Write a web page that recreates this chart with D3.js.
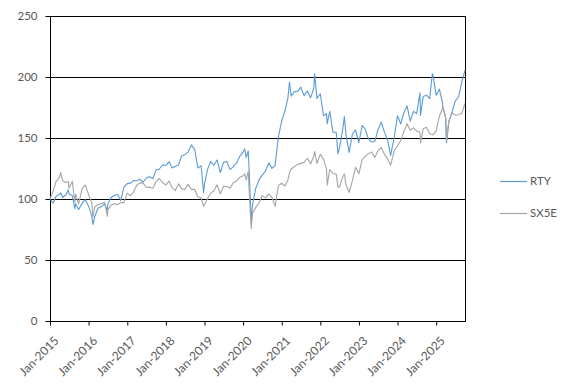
<!DOCTYPE html>
<html>
<head>
<meta charset="utf-8">
<script src="https://d3js.org/d3.v7.min.js"></script>
<title>RTY vs SX5E</title>
<style type="text/css">
  body { margin: 0; background: #ffffff; }
  text { font-family: Lato, "Liberation Sans", sans-serif; }
</style>
</head>
<body>
<div id="chart"></div>
<script>

// rebased index levels (start = 100)
var dates = [
  "2015-01-01","2015-01-31","2015-02-28","2015-03-31","2015-04-13","2015-04-30","2015-05-31","2015-06-23","2015-06-30",
  "2015-07-31","2015-08-24","2015-08-31","2015-09-29","2015-10-31","2015-11-30","2015-12-31",
  "2016-01-31","2016-02-11","2016-02-29","2016-03-31","2016-04-30","2016-05-31","2016-06-27","2016-06-30",
  "2016-07-31","2016-08-31","2016-09-30","2016-10-31","2016-11-30","2016-12-31",
  "2017-01-31","2017-02-28","2017-03-31","2017-04-30","2017-05-31","2017-06-30","2017-07-31","2017-08-31",
  "2017-09-30","2017-10-31","2017-11-30","2017-12-31",
  "2018-01-31","2018-02-28","2018-03-31","2018-04-30","2018-05-31","2018-06-30","2018-07-31","2018-08-31",
  "2018-09-30","2018-10-31","2018-11-30","2018-12-24","2018-12-31",
  "2019-01-31","2019-02-28","2019-03-31","2019-04-30","2019-05-31","2019-06-30","2019-07-31","2019-08-31",
  "2019-09-30","2019-10-31","2019-11-30","2019-12-31",
  "2020-01-17","2020-01-31","2020-02-19","2020-02-28","2020-03-18","2020-03-31","2020-04-30","2020-05-31",
  "2020-06-30","2020-07-31","2020-08-31","2020-09-30","2020-10-30","2020-11-30","2020-12-31",
  "2021-01-31","2021-02-28","2021-03-15","2021-03-31","2021-04-30","2021-05-31","2021-06-30","2021-07-31",
  "2021-08-31","2021-09-30","2021-10-31","2021-11-08","2021-11-30","2021-12-31",
  "2022-01-31","2022-02-28","2022-03-07","2022-03-31","2022-04-30","2022-05-31","2022-06-16","2022-06-30",
  "2022-07-31","2022-08-16","2022-08-31","2022-09-30","2022-10-31","2022-11-30","2022-12-31",
  "2023-01-31","2023-02-28","2023-03-31","2023-04-30","2023-05-31","2023-06-30","2023-07-31","2023-08-31",
  "2023-09-30","2023-10-27","2023-11-30","2023-12-31",
  "2024-01-31","2024-02-29","2024-03-31","2024-04-30","2024-05-31","2024-06-30","2024-07-31","2024-08-05",
  "2024-08-31","2024-09-30","2024-10-31","2024-11-25","2024-11-30","2024-12-31",
  "2025-01-31","2025-02-28","2025-03-03","2025-03-31","2025-04-08","2025-04-30","2025-05-31","2025-06-30",
  "2025-07-31","2025-08-31","2025-09-30"
];

var rty = [
  100,96.7,102.3,103.9,105.0,101.2,103.5,107.5,104.1,
  102.8,92.1,96.2,91.4,96.4,99.5,94.3,
  86.0,79.1,85.8,92.4,93.8,95.9,90.5,95.6,
  101.2,102.9,103.9,98.8,109.7,112.6,
  113.0,115.1,115.0,116.2,113.7,117.4,118.3,116.6,
  123.7,124.6,128.1,127.4,
  130.7,125.5,126.9,127.9,135.5,136.3,138.7,144.4,
  140.7,125.4,127.2,105.1,112.0,
  124.5,130.7,127.8,132.0,121.7,130.0,130.7,124.1,
  126.4,129.6,134.9,138.4,
  141.1,133.9,139.4,122.5,82.2,95.7,108.8,115.7,
  119.6,122.8,129.5,125.1,127.6,151.0,163.9,
  172.0,182.7,195.9,184.3,188.0,188.2,191.7,184.7,
  188.6,182.9,190.6,202.7,182.5,186.3,
  168.3,170.0,161.8,171.8,154.7,154.7,136.9,141.7,
  156.4,167.6,153.0,138.2,153.3,156.6,146.1,
  160.3,157.4,149.5,146.7,147.2,156.8,163.0,154.6,
  148.1,135.8,150.2,168.2,
  161.6,170.5,176.3,163.8,171.8,170.0,187.1,168.5,
  184.1,185.1,182.3,202.7,202.1,185.1,
  189.9,179.5,175.9,166.9,146.1,163.0,171.5,180.5,
  183.6,196.3,205.5
];

var sx5e = [
  100,106.5,114.4,117.5,121.7,114.9,113.5,114.4,108.8,
  114.5,97.6,103.9,96.0,108.6,111.4,103.9,
  96.8,85.2,93.6,95.5,96.2,97.4,85.8,91.1,
  95.1,96.1,95.4,97.1,97.0,104.6,
  102.7,105.5,111.3,113.2,113.0,109.4,109.7,108.8,
  114.3,116.8,113.5,111.4,
  114.7,109.3,106.9,112.4,108.3,107.9,112.0,107.9,
  108.0,101.6,100.9,93.8,95.4,
  100.4,104.8,106.5,111.7,104.3,110.4,110.2,108.9,
  113.4,114.6,117.7,119.0,
  120.8,115.7,122.9,105.8,75.8,88.6,93.1,96.9,
  102.8,100.9,104.0,101.5,94.0,111.0,112.9,
  110.6,115.6,121.7,124.6,126.4,128.4,129.2,130.0,
  133.4,128.7,135.1,138.9,129.1,136.6,
  132.7,124.7,111.4,124.1,120.9,120.4,109.7,109.8,
  117.9,120.5,111.8,105.5,115.0,126.0,120.6,
  132.3,134.7,137.2,138.6,134.1,139.8,142.1,136.6,
  132.7,127.6,139.3,143.7,
  147.7,155.1,161.6,156.4,158.4,155.6,154.9,145.9,
  157.6,158.9,153.4,152.6,152.7,155.6,
  168.1,173.7,176.1,166.8,146.9,164.1,170.6,168.6,
  169.1,170.1,178.5
];

var seriesNames = ["RTY", "SX5E"];
var seriesColors = ["#5b9bd5", "#a5a5a5"];
var yTicks = [0, 50, 100, 150, 200, 250];
var tickYears = [2015, 2016, 2017, 2018, 2019, 2020, 2021, 2022, 2023, 2024, 2025];

// size + margins
var margin = {top: 16, right: 107, bottom: 64, left: 50},
    width = 465 - margin.left,
    height = 321 - margin.top;

var svg = d3.select("#chart").append("svg")
  .attr("width", 572)
  .attr("height", 385)
  .append("g")
  .attr("transform", "translate(" + margin.left + "," + margin.top + ")");

var parse = d3.timeParse("%Y-%m-%d");
var data = dates.map(function(d, i) {
  return {date: parse(d), rty: rty[i], sx5e: sx5e[i]};
});

var x = d3.scaleTime()
  .domain(d3.extent(data, function(d) { return d.date; }))
  .range([0, width]);

var y = d3.scaleLinear()
  .domain([0, 250])
  .range([height, 0]);

// gridlines
svg.append("g").selectAll("line")
  .data(yTicks)
  .enter().append("line")
  .attr("x1", 0)
  .attr("x2", width)
  .attr("y1", function(d) { return Math.round(y(d)) + 0.5; })
  .attr("y2", function(d) { return Math.round(y(d)) + 0.5; })
  .style("stroke", "#000")
  .style("stroke-width", 1);

// plot border
svg.append("rect")
  .attr("x", 0.5)
  .attr("y", Math.round(y(250)) + 0.5)
  .attr("width", width)
  .attr("height", Math.round(y(0)) - Math.round(y(250)))
  .style("fill", "none")
  .style("stroke", "#000")
  .style("stroke-width", 1);

// Y axis
var yAxis = svg.append("g")
  .attr("transform", "translate(0.5,0)")
  .call(d3.axisLeft(y).tickValues(yTicks).tickSize(5).tickPadding(8).tickFormat(d3.format("d")));
yAxis.select(".domain").remove();
yAxis.selectAll("line").style("stroke", "#000");
yAxis.selectAll("text")
  .attr("font-size", "11.5px")
  .style("fill", "#595959")
  .style("font-family", "Lato, 'Liberation Sans', sans-serif");

// X axis
var xTicks = tickYears.map(function(yr) { return new Date(yr, 0, 1); });
var xAxis = svg.append("g")
  .attr("transform", "translate(0," + (Math.round(height) + 0.5) + ")")
  .call(d3.axisBottom(x).tickValues(xTicks).tickSize(4).tickFormat(d3.timeFormat("%b-%Y")));
xAxis.select(".domain").remove();
xAxis.selectAll("line").style("stroke", "#000");
xAxis.selectAll("text")
  .attr("font-size", "12px")
  .style("fill", "#595959")
  .style("font-family", "Lato, 'Liberation Sans', sans-serif")
  .style("text-anchor", "end")
  .attr("x", 0)
  .attr("y", 0)
  .attr("dy", 0)
  .attr("transform", "translate(9,20) rotate(-45)");

// lines
var keys = ["rty", "sx5e"];
keys.forEach(function(k, i) {
  var line = d3.line()
    .x(function(d) { return x(d.date); })
    .y(function(d) { return y(d[k]); });
  svg.append("path")
    .datum(data)
    .attr("d", line)
    .style("fill", "none")
    .style("stroke", seriesColors[i])
    .style("stroke-width", 1.1)
    .style("stroke-linejoin", "round");
});

// legend
var legend = svg.append("g")
  .attr("transform", "translate(" + (500 - margin.left) + "," + (181 - margin.top) + ")");
seriesNames.forEach(function(name, i) {
  legend.append("line")
    .attr("x1", 0).attr("x2", 27)
    .attr("y1", i * 32 + 0.5).attr("y2", i * 32 + 0.5)
    .style("stroke", seriesColors[i])
    .style("stroke-width", 1.2);
  legend.append("text")
    .attr("x", 30)
    .attr("y", i * 32)
    .attr("dy", "0.35em")
    .attr("font-size", "11.5px")
    .style("fill", "#595959")
    .text(name);
});

</script>
</body>
</html>
